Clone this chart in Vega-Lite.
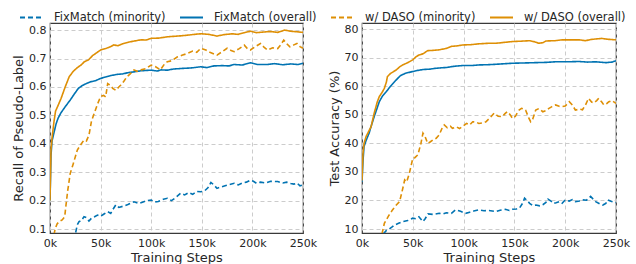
{
  "$schema": "https://vega.github.io/schema/vega-lite/v6.json",
  "padding": {"left": 11, "top": 5, "right": 5, "bottom": 2},
  "spacing": 9,
  "config": {
    "font": "DejaVu Sans",
    "view": {"stroke": "#3a3a3a", "strokeWidth": 1.2},
    "axis": {
      "labelFontSize": 11, "titleFontSize": 13, "labelColor": "#262626", "titleColor": "#262626",
      "titleFontWeight": "normal", "ticks": false, "domain": false,
      "grid": true, "gridColor": "#cccccc", "gridDash": [4, 3], "gridWidth": 1,
      "labelPadding": 4, "titlePadding": 3
    },
    "legend": {"labelFontSize": 11.5, "labelColor": "#262626"}
  },
  "datasets": {
    "recall": [
      {"s":"FixMatch (overall)","x":0,"y":0.20},{"s":"FixMatch (overall)","x":1,"y":0.36},{"s":"FixMatch (overall)","x":2,"y":0.41},{"s":"FixMatch (overall)","x":4,"y":0.44},{"s":"FixMatch (overall)","x":6,"y":0.47},{"s":"FixMatch (overall)","x":8,"y":0.49},{"s":"FixMatch (overall)","x":10.5,"y":0.507},{"s":"FixMatch (overall)","x":13,"y":0.52},{"s":"FixMatch (overall)","x":16,"y":0.535},{"s":"FixMatch (overall)","x":20,"y":0.554},{"s":"FixMatch (overall)","x":24,"y":0.575},{"s":"FixMatch (overall)","x":28,"y":0.595},{"s":"FixMatch (overall)","x":32,"y":0.605},{"s":"FixMatch (overall)","x":36,"y":0.612},{"s":"FixMatch (overall)","x":40,"y":0.618},{"s":"FixMatch (overall)","x":45,"y":0.622},{"s":"FixMatch (overall)","x":50,"y":0.63},{"s":"FixMatch (overall)","x":55,"y":0.635},{"s":"FixMatch (overall)","x":60,"y":0.64},{"s":"FixMatch (overall)","x":66,"y":0.644},{"s":"FixMatch (overall)","x":72,"y":0.646},{"s":"FixMatch (overall)","x":78,"y":0.651},{"s":"FixMatch (overall)","x":83,"y":0.653},{"s":"FixMatch (overall)","x":90,"y":0.657},{"s":"FixMatch (overall)","x":100,"y":0.659},{"s":"FixMatch (overall)","x":106,"y":0.656},{"s":"FixMatch (overall)","x":110,"y":0.66},{"s":"FixMatch (overall)","x":116,"y":0.659},{"s":"FixMatch (overall)","x":122,"y":0.663},{"s":"FixMatch (overall)","x":130,"y":0.665},{"s":"FixMatch (overall)","x":140,"y":0.667},{"s":"FixMatch (overall)","x":149,"y":0.671},{"s":"FixMatch (overall)","x":155,"y":0.668},{"s":"FixMatch (overall)","x":162,"y":0.674},{"s":"FixMatch (overall)","x":170,"y":0.675},{"s":"FixMatch (overall)","x":177,"y":0.674},{"s":"FixMatch (overall)","x":182,"y":0.679},{"s":"FixMatch (overall)","x":190,"y":0.677},{"s":"FixMatch (overall)","x":198,"y":0.685},{"s":"FixMatch (overall)","x":205,"y":0.679},{"s":"FixMatch (overall)","x":215,"y":0.679},{"s":"FixMatch (overall)","x":222,"y":0.682},{"s":"FixMatch (overall)","x":230,"y":0.678},{"s":"FixMatch (overall)","x":238,"y":0.681},{"s":"FixMatch (overall)","x":245,"y":0.679},{"s":"FixMatch (overall)","x":250,"y":0.683},
      {"s":"w/ DASO (overall)","x":0,"y":0.20},{"s":"w/ DASO (overall)","x":1,"y":0.38},{"s":"w/ DASO (overall)","x":2,"y":0.42},{"s":"w/ DASO (overall)","x":4,"y":0.48},{"s":"w/ DASO (overall)","x":5.5,"y":0.515},{"s":"w/ DASO (overall)","x":8,"y":0.535},{"s":"w/ DASO (overall)","x":11,"y":0.56},{"s":"w/ DASO (overall)","x":15,"y":0.6},{"s":"w/ DASO (overall)","x":19,"y":0.636},{"s":"w/ DASO (overall)","x":23,"y":0.655},{"s":"w/ DASO (overall)","x":27,"y":0.668},{"s":"w/ DASO (overall)","x":31,"y":0.678},{"s":"w/ DASO (overall)","x":34,"y":0.689},{"s":"w/ DASO (overall)","x":38,"y":0.695},{"s":"w/ DASO (overall)","x":42,"y":0.71},{"s":"w/ DASO (overall)","x":46,"y":0.72},{"s":"w/ DASO (overall)","x":50,"y":0.73},{"s":"w/ DASO (overall)","x":55,"y":0.735},{"s":"w/ DASO (overall)","x":60,"y":0.742},{"s":"w/ DASO (overall)","x":63,"y":0.748},{"s":"w/ DASO (overall)","x":67,"y":0.745},{"s":"w/ DASO (overall)","x":72,"y":0.752},{"s":"w/ DASO (overall)","x":78,"y":0.758},{"s":"w/ DASO (overall)","x":84,"y":0.762},{"s":"w/ DASO (overall)","x":90,"y":0.766},{"s":"w/ DASO (overall)","x":95,"y":0.765},{"s":"w/ DASO (overall)","x":100,"y":0.771},{"s":"w/ DASO (overall)","x":108,"y":0.772},{"s":"w/ DASO (overall)","x":115,"y":0.776},{"s":"w/ DASO (overall)","x":122,"y":0.778},{"s":"w/ DASO (overall)","x":130,"y":0.78},{"s":"w/ DASO (overall)","x":138,"y":0.783},{"s":"w/ DASO (overall)","x":145,"y":0.786},{"s":"w/ DASO (overall)","x":150,"y":0.787},{"s":"w/ DASO (overall)","x":157,"y":0.785},{"s":"w/ DASO (overall)","x":165,"y":0.779},{"s":"w/ DASO (overall)","x":172,"y":0.784},{"s":"w/ DASO (overall)","x":180,"y":0.787},{"s":"w/ DASO (overall)","x":186,"y":0.785},{"s":"w/ DASO (overall)","x":192,"y":0.791},{"s":"w/ DASO (overall)","x":198,"y":0.796},{"s":"w/ DASO (overall)","x":204,"y":0.791},{"s":"w/ DASO (overall)","x":210,"y":0.793},{"s":"w/ DASO (overall)","x":218,"y":0.795},{"s":"w/ DASO (overall)","x":225,"y":0.792},{"s":"w/ DASO (overall)","x":232,"y":0.80},{"s":"w/ DASO (overall)","x":238,"y":0.796},{"s":"w/ DASO (overall)","x":244,"y":0.794},{"s":"w/ DASO (overall)","x":250,"y":0.792},
      {"s":"w/ DASO (minority)","x":4,"y":0.08},{"s":"w/ DASO (minority)","x":5,"y":0.10},{"s":"w/ DASO (minority)","x":7,"y":0.118},{"s":"w/ DASO (minority)","x":9,"y":0.126},{"s":"w/ DASO (minority)","x":12,"y":0.132},{"s":"w/ DASO (minority)","x":14.5,"y":0.143},{"s":"w/ DASO (minority)","x":16,"y":0.19},{"s":"w/ DASO (minority)","x":17.5,"y":0.235},{"s":"w/ DASO (minority)","x":20,"y":0.296},{"s":"w/ DASO (minority)","x":23,"y":0.33},{"s":"w/ DASO (minority)","x":27,"y":0.378},{"s":"w/ DASO (minority)","x":30,"y":0.395},{"s":"w/ DASO (minority)","x":33.5,"y":0.413},{"s":"w/ DASO (minority)","x":36,"y":0.41},{"s":"w/ DASO (minority)","x":38.5,"y":0.43},{"s":"w/ DASO (minority)","x":41,"y":0.48},{"s":"w/ DASO (minority)","x":43,"y":0.5},{"s":"w/ DASO (minority)","x":47,"y":0.54},{"s":"w/ DASO (minority)","x":50,"y":0.566},{"s":"w/ DASO (minority)","x":53,"y":0.57},{"s":"w/ DASO (minority)","x":55,"y":0.565},{"s":"w/ DASO (minority)","x":57,"y":0.612},{"s":"w/ DASO (minority)","x":60,"y":0.605},{"s":"w/ DASO (minority)","x":62,"y":0.595},{"s":"w/ DASO (minority)","x":65,"y":0.588},{"s":"w/ DASO (minority)","x":68,"y":0.6},{"s":"w/ DASO (minority)","x":70,"y":0.607},{"s":"w/ DASO (minority)","x":73,"y":0.62},{"s":"w/ DASO (minority)","x":76,"y":0.636},{"s":"w/ DASO (minority)","x":79,"y":0.645},{"s":"w/ DASO (minority)","x":83,"y":0.66},{"s":"w/ DASO (minority)","x":86,"y":0.655},{"s":"w/ DASO (minority)","x":90,"y":0.66},{"s":"w/ DASO (minority)","x":95,"y":0.665},{"s":"w/ DASO (minority)","x":100,"y":0.677},{"s":"w/ DASO (minority)","x":104,"y":0.672},{"s":"w/ DASO (minority)","x":109,"y":0.66},{"s":"w/ DASO (minority)","x":113,"y":0.68},{"s":"w/ DASO (minority)","x":116,"y":0.689},{"s":"w/ DASO (minority)","x":120,"y":0.692},{"s":"w/ DASO (minority)","x":126,"y":0.706},{"s":"w/ DASO (minority)","x":131,"y":0.712},{"s":"w/ DASO (minority)","x":136,"y":0.718},{"s":"w/ DASO (minority)","x":141,"y":0.726},{"s":"w/ DASO (minority)","x":145,"y":0.722},{"s":"w/ DASO (minority)","x":149,"y":0.736},{"s":"w/ DASO (minority)","x":154,"y":0.73},{"s":"w/ DASO (minority)","x":158,"y":0.722},{"s":"w/ DASO (minority)","x":165,"y":0.712},{"s":"w/ DASO (minority)","x":170,"y":0.724},{"s":"w/ DASO (minority)","x":175,"y":0.736},{"s":"w/ DASO (minority)","x":179,"y":0.728},{"s":"w/ DASO (minority)","x":182,"y":0.724},{"s":"w/ DASO (minority)","x":187,"y":0.735},{"s":"w/ DASO (minority)","x":192,"y":0.747},{"s":"w/ DASO (minority)","x":195,"y":0.735},{"s":"w/ DASO (minority)","x":198,"y":0.73},{"s":"w/ DASO (minority)","x":203,"y":0.742},{"s":"w/ DASO (minority)","x":208,"y":0.753},{"s":"w/ DASO (minority)","x":212,"y":0.738},{"s":"w/ DASO (minority)","x":215,"y":0.73},{"s":"w/ DASO (minority)","x":220,"y":0.738},{"s":"w/ DASO (minority)","x":225,"y":0.735},{"s":"w/ DASO (minority)","x":228,"y":0.748},{"s":"w/ DASO (minority)","x":231,"y":0.765},{"s":"w/ DASO (minority)","x":234,"y":0.752},{"s":"w/ DASO (minority)","x":237,"y":0.741},{"s":"w/ DASO (minority)","x":241,"y":0.748},{"s":"w/ DASO (minority)","x":244,"y":0.753},{"s":"w/ DASO (minority)","x":247,"y":0.742},{"s":"w/ DASO (minority)","x":250,"y":0.736},
      {"s":"FixMatch (minority)","x":24,"y":0.06},{"s":"FixMatch (minority)","x":25.5,"y":0.09},{"s":"FixMatch (minority)","x":27,"y":0.115},{"s":"FixMatch (minority)","x":28.7,"y":0.126},{"s":"FixMatch (minority)","x":31,"y":0.13},{"s":"FixMatch (minority)","x":33.6,"y":0.143},{"s":"FixMatch (minority)","x":36,"y":0.14},{"s":"FixMatch (minority)","x":38.5,"y":0.128},{"s":"FixMatch (minority)","x":41,"y":0.138},{"s":"FixMatch (minority)","x":44,"y":0.143},{"s":"FixMatch (minority)","x":47,"y":0.149},{"s":"FixMatch (minority)","x":50,"y":0.145},{"s":"FixMatch (minority)","x":53,"y":0.152},{"s":"FixMatch (minority)","x":57,"y":0.161},{"s":"FixMatch (minority)","x":60,"y":0.155},{"s":"FixMatch (minority)","x":62,"y":0.168},{"s":"FixMatch (minority)","x":65,"y":0.185},{"s":"FixMatch (minority)","x":68,"y":0.176},{"s":"FixMatch (minority)","x":72,"y":0.18},{"s":"FixMatch (minority)","x":77,"y":0.186},{"s":"FixMatch (minority)","x":83,"y":0.196},{"s":"FixMatch (minority)","x":88,"y":0.19},{"s":"FixMatch (minority)","x":92,"y":0.195},{"s":"FixMatch (minority)","x":96,"y":0.2},{"s":"FixMatch (minority)","x":100,"y":0.202},{"s":"FixMatch (minority)","x":103,"y":0.195},{"s":"FixMatch (minority)","x":107,"y":0.197},{"s":"FixMatch (minority)","x":112,"y":0.205},{"s":"FixMatch (minority)","x":116,"y":0.208},{"s":"FixMatch (minority)","x":120,"y":0.2},{"s":"FixMatch (minority)","x":124,"y":0.21},{"s":"FixMatch (minority)","x":129,"y":0.226},{"s":"FixMatch (minority)","x":133,"y":0.22},{"s":"FixMatch (minority)","x":137,"y":0.228},{"s":"FixMatch (minority)","x":141,"y":0.222},{"s":"FixMatch (minority)","x":145,"y":0.232},{"s":"FixMatch (minority)","x":149,"y":0.231},{"s":"FixMatch (minority)","x":153,"y":0.235},{"s":"FixMatch (minority)","x":156,"y":0.245},{"s":"FixMatch (minority)","x":159,"y":0.264},{"s":"FixMatch (minority)","x":162,"y":0.255},{"s":"FixMatch (minority)","x":165,"y":0.243},{"s":"FixMatch (minority)","x":169,"y":0.248},{"s":"FixMatch (minority)","x":173,"y":0.252},{"s":"FixMatch (minority)","x":177,"y":0.256},{"s":"FixMatch (minority)","x":182,"y":0.261},{"s":"FixMatch (minority)","x":186,"y":0.255},{"s":"FixMatch (minority)","x":190,"y":0.262},{"s":"FixMatch (minority)","x":194,"y":0.265},{"s":"FixMatch (minority)","x":198,"y":0.272},{"s":"FixMatch (minority)","x":201,"y":0.268},{"s":"FixMatch (minority)","x":204,"y":0.261},{"s":"FixMatch (minority)","x":208,"y":0.265},{"s":"FixMatch (minority)","x":213,"y":0.262},{"s":"FixMatch (minority)","x":218,"y":0.268},{"s":"FixMatch (minority)","x":225,"y":0.267},{"s":"FixMatch (minority)","x":230,"y":0.262},{"s":"FixMatch (minority)","x":234,"y":0.265},{"s":"FixMatch (minority)","x":238,"y":0.26},{"s":"FixMatch (minority)","x":241,"y":0.258},{"s":"FixMatch (minority)","x":244,"y":0.262},{"s":"FixMatch (minority)","x":247,"y":0.252},{"s":"FixMatch (minority)","x":250,"y":0.255}
    ],
    "acc": [
      {"s":"FixMatch (overall)","x":0,"y":26.5},{"s":"FixMatch (overall)","x":1,"y":34},{"s":"FixMatch (overall)","x":2,"y":38.9},{"s":"FixMatch (overall)","x":4,"y":41},{"s":"FixMatch (overall)","x":7,"y":43.6},{"s":"FixMatch (overall)","x":9,"y":46},{"s":"FixMatch (overall)","x":12,"y":49.4},{"s":"FixMatch (overall)","x":15,"y":52.5},{"s":"FixMatch (overall)","x":17,"y":54.6},{"s":"FixMatch (overall)","x":20,"y":56.5},{"s":"FixMatch (overall)","x":24,"y":58.2},{"s":"FixMatch (overall)","x":28,"y":60},{"s":"FixMatch (overall)","x":33.5,"y":62.2},{"s":"FixMatch (overall)","x":38,"y":63.8},{"s":"FixMatch (overall)","x":43,"y":64.6},{"s":"FixMatch (overall)","x":50,"y":65.2},{"s":"FixMatch (overall)","x":55,"y":65.6},{"s":"FixMatch (overall)","x":60,"y":65.9},{"s":"FixMatch (overall)","x":66,"y":66},{"s":"FixMatch (overall)","x":72,"y":66.3},{"s":"FixMatch (overall)","x":78,"y":66.5},{"s":"FixMatch (overall)","x":83,"y":66.6},{"s":"FixMatch (overall)","x":90,"y":67},{"s":"FixMatch (overall)","x":99,"y":67.3},{"s":"FixMatch (overall)","x":108,"y":67.3},{"s":"FixMatch (overall)","x":115,"y":67.5},{"s":"FixMatch (overall)","x":125,"y":67.6},{"s":"FixMatch (overall)","x":135,"y":67.8},{"s":"FixMatch (overall)","x":148,"y":68.1},{"s":"FixMatch (overall)","x":160,"y":68.2},{"s":"FixMatch (overall)","x":170,"y":68.3},{"s":"FixMatch (overall)","x":181,"y":68.4},{"s":"FixMatch (overall)","x":190,"y":68.6},{"s":"FixMatch (overall)","x":200,"y":68.6},{"s":"FixMatch (overall)","x":214,"y":68.7},{"s":"FixMatch (overall)","x":222,"y":68.5},{"s":"FixMatch (overall)","x":230,"y":68.6},{"s":"FixMatch (overall)","x":240,"y":68.3},{"s":"FixMatch (overall)","x":246,"y":68.5},{"s":"FixMatch (overall)","x":250,"y":69},
      {"s":"w/ DASO (overall)","x":0,"y":27},{"s":"w/ DASO (overall)","x":1,"y":36.5},{"s":"w/ DASO (overall)","x":2,"y":40},{"s":"w/ DASO (overall)","x":4,"y":42.4},{"s":"w/ DASO (overall)","x":7,"y":44.5},{"s":"w/ DASO (overall)","x":9,"y":45.9},{"s":"w/ DASO (overall)","x":12,"y":50.6},{"s":"w/ DASO (overall)","x":15,"y":54.5},{"s":"w/ DASO (overall)","x":17,"y":56.4},{"s":"w/ DASO (overall)","x":20,"y":58},{"s":"w/ DASO (overall)","x":22,"y":59.3},{"s":"w/ DASO (overall)","x":24,"y":61.5},{"s":"w/ DASO (overall)","x":25,"y":63.4},{"s":"w/ DASO (overall)","x":28,"y":64.5},{"s":"w/ DASO (overall)","x":33.5,"y":65.7},{"s":"w/ DASO (overall)","x":37,"y":66.8},{"s":"w/ DASO (overall)","x":40,"y":67.5},{"s":"w/ DASO (overall)","x":45,"y":68.3},{"s":"w/ DASO (overall)","x":50,"y":69.3},{"s":"w/ DASO (overall)","x":53,"y":70.3},{"s":"w/ DASO (overall)","x":56,"y":71},{"s":"w/ DASO (overall)","x":60,"y":71.4},{"s":"w/ DASO (overall)","x":64.6,"y":72.5},{"s":"w/ DASO (overall)","x":70,"y":72.6},{"s":"w/ DASO (overall)","x":76,"y":72.8},{"s":"w/ DASO (overall)","x":83,"y":73.3},{"s":"w/ DASO (overall)","x":88,"y":74},{"s":"w/ DASO (overall)","x":94,"y":74.2},{"s":"w/ DASO (overall)","x":99,"y":74.5},{"s":"w/ DASO (overall)","x":107,"y":74.6},{"s":"w/ DASO (overall)","x":115,"y":74.9},{"s":"w/ DASO (overall)","x":125,"y":75.1},{"s":"w/ DASO (overall)","x":132,"y":75.1},{"s":"w/ DASO (overall)","x":140,"y":75.4},{"s":"w/ DASO (overall)","x":148,"y":75.7},{"s":"w/ DASO (overall)","x":155,"y":75.8},{"s":"w/ DASO (overall)","x":165,"y":76},{"s":"w/ DASO (overall)","x":170,"y":75.6},{"s":"w/ DASO (overall)","x":174,"y":75.1},{"s":"w/ DASO (overall)","x":178,"y":75.3},{"s":"w/ DASO (overall)","x":181,"y":75.9},{"s":"w/ DASO (overall)","x":190,"y":76},{"s":"w/ DASO (overall)","x":197,"y":76.3},{"s":"w/ DASO (overall)","x":205,"y":76.3},{"s":"w/ DASO (overall)","x":214,"y":76.3},{"s":"w/ DASO (overall)","x":220,"y":76},{"s":"w/ DASO (overall)","x":225,"y":76.4},{"s":"w/ DASO (overall)","x":230,"y":76.6},{"s":"w/ DASO (overall)","x":236,"y":76.8},{"s":"w/ DASO (overall)","x":242,"y":76.5},{"s":"w/ DASO (overall)","x":250,"y":76.3},
      {"s":"w/ DASO (minority)","x":19.7,"y":8.3},{"s":"w/ DASO (minority)","x":22,"y":12},{"s":"w/ DASO (minority)","x":26,"y":14.5},{"s":"w/ DASO (minority)","x":30,"y":16.7},{"s":"w/ DASO (minority)","x":34,"y":18.5},{"s":"w/ DASO (minority)","x":37,"y":19.6},{"s":"w/ DASO (minority)","x":40,"y":24},{"s":"w/ DASO (minority)","x":42,"y":27.2},{"s":"w/ DASO (minority)","x":44,"y":26.5},{"s":"w/ DASO (minority)","x":46.6,"y":29.5},{"s":"w/ DASO (minority)","x":50,"y":34.8},{"s":"w/ DASO (minority)","x":52,"y":35},{"s":"w/ DASO (minority)","x":55,"y":36},{"s":"w/ DASO (minority)","x":58,"y":40},{"s":"w/ DASO (minority)","x":60,"y":43.6},{"s":"w/ DASO (minority)","x":62,"y":42.5},{"s":"w/ DASO (minority)","x":64.6,"y":40},{"s":"w/ DASO (minority)","x":67,"y":40.5},{"s":"w/ DASO (minority)","x":69.6,"y":41.2},{"s":"w/ DASO (minority)","x":73,"y":41.8},{"s":"w/ DASO (minority)","x":76,"y":43},{"s":"w/ DASO (minority)","x":79,"y":45.5},{"s":"w/ DASO (minority)","x":81,"y":46.5},{"s":"w/ DASO (minority)","x":84,"y":45.5},{"s":"w/ DASO (minority)","x":87,"y":46},{"s":"w/ DASO (minority)","x":89,"y":45.3},{"s":"w/ DASO (minority)","x":93,"y":45.8},{"s":"w/ DASO (minority)","x":96,"y":45.2},{"s":"w/ DASO (minority)","x":99,"y":45.9},{"s":"w/ DASO (minority)","x":103,"y":47},{"s":"w/ DASO (minority)","x":106,"y":46.5},{"s":"w/ DASO (minority)","x":109,"y":47.6},{"s":"w/ DASO (minority)","x":112,"y":47.5},{"s":"w/ DASO (minority)","x":115,"y":47},{"s":"w/ DASO (minority)","x":119,"y":47.2},{"s":"w/ DASO (minority)","x":122,"y":47.6},{"s":"w/ DASO (minority)","x":126,"y":49},{"s":"w/ DASO (minority)","x":130,"y":50.6},{"s":"w/ DASO (minority)","x":134,"y":49.5},{"s":"w/ DASO (minority)","x":138,"y":49.4},{"s":"w/ DASO (minority)","x":141,"y":50.5},{"s":"w/ DASO (minority)","x":143,"y":51.1},{"s":"w/ DASO (minority)","x":146,"y":50},{"s":"w/ DASO (minority)","x":148,"y":48.8},{"s":"w/ DASO (minority)","x":151,"y":49.5},{"s":"w/ DASO (minority)","x":154,"y":51.5},{"s":"w/ DASO (minority)","x":157,"y":52.3},{"s":"w/ DASO (minority)","x":161,"y":51.7},{"s":"w/ DASO (minority)","x":164,"y":49},{"s":"w/ DASO (minority)","x":166,"y":47.6},{"s":"w/ DASO (minority)","x":168,"y":48.5},{"s":"w/ DASO (minority)","x":171,"y":51.7},{"s":"w/ DASO (minority)","x":174,"y":52.2},{"s":"w/ DASO (minority)","x":178,"y":51.1},{"s":"w/ DASO (minority)","x":181,"y":51.5},{"s":"w/ DASO (minority)","x":184,"y":52.3},{"s":"w/ DASO (minority)","x":187,"y":52.9},{"s":"w/ DASO (minority)","x":190.5,"y":53.5},{"s":"w/ DASO (minority)","x":194,"y":53},{"s":"w/ DASO (minority)","x":197,"y":52.9},{"s":"w/ DASO (minority)","x":200,"y":53.1},{"s":"w/ DASO (minority)","x":204,"y":54.6},{"s":"w/ DASO (minority)","x":207,"y":53.5},{"s":"w/ DASO (minority)","x":210,"y":51.7},{"s":"w/ DASO (minority)","x":214,"y":52},{"s":"w/ DASO (minority)","x":217,"y":51.8},{"s":"w/ DASO (minority)","x":220,"y":53.5},{"s":"w/ DASO (minority)","x":223,"y":55.8},{"s":"w/ DASO (minority)","x":226,"y":54.5},{"s":"w/ DASO (minority)","x":228,"y":54.2},{"s":"w/ DASO (minority)","x":231,"y":55},{"s":"w/ DASO (minority)","x":233,"y":55.8},{"s":"w/ DASO (minority)","x":236,"y":54.5},{"s":"w/ DASO (minority)","x":238,"y":53.5},{"s":"w/ DASO (minority)","x":241,"y":54},{"s":"w/ DASO (minority)","x":243,"y":54.6},{"s":"w/ DASO (minority)","x":246,"y":55},{"s":"w/ DASO (minority)","x":250,"y":54},
      {"s":"FixMatch (minority)","x":21,"y":8.3},{"s":"FixMatch (minority)","x":24,"y":9.5},{"s":"FixMatch (minority)","x":27,"y":10},{"s":"FixMatch (minority)","x":30,"y":10.8},{"s":"FixMatch (minority)","x":32,"y":11.4},{"s":"FixMatch (minority)","x":36,"y":12},{"s":"FixMatch (minority)","x":40,"y":12.6},{"s":"FixMatch (minority)","x":45,"y":13},{"s":"FixMatch (minority)","x":50,"y":13.8},{"s":"FixMatch (minority)","x":53,"y":13.6},{"s":"FixMatch (minority)","x":56,"y":14.3},{"s":"FixMatch (minority)","x":60,"y":12.6},{"s":"FixMatch (minority)","x":62,"y":13.5},{"s":"FixMatch (minority)","x":65,"y":15.3},{"s":"FixMatch (minority)","x":70,"y":15.1},{"s":"FixMatch (minority)","x":76,"y":15.5},{"s":"FixMatch (minority)","x":80,"y":15.3},{"s":"FixMatch (minority)","x":83,"y":15.7},{"s":"FixMatch (minority)","x":88,"y":15.5},{"s":"FixMatch (minority)","x":92,"y":16.7},{"s":"FixMatch (minority)","x":97,"y":16.2},{"s":"FixMatch (minority)","x":102,"y":15.5},{"s":"FixMatch (minority)","x":106,"y":15.9},{"s":"FixMatch (minority)","x":110,"y":16.3},{"s":"FixMatch (minority)","x":115,"y":16.7},{"s":"FixMatch (minority)","x":120,"y":16.4},{"s":"FixMatch (minority)","x":125,"y":16.5},{"s":"FixMatch (minority)","x":132,"y":16.1},{"s":"FixMatch (minority)","x":136,"y":16.6},{"s":"FixMatch (minority)","x":141,"y":16.9},{"s":"FixMatch (minority)","x":145,"y":16.5},{"s":"FixMatch (minority)","x":148,"y":16.9},{"s":"FixMatch (minority)","x":152,"y":17},{"s":"FixMatch (minority)","x":155,"y":17.3},{"s":"FixMatch (minority)","x":158,"y":19},{"s":"FixMatch (minority)","x":160,"y":20.8},{"s":"FixMatch (minority)","x":163,"y":19.8},{"s":"FixMatch (minority)","x":165,"y":19},{"s":"FixMatch (minority)","x":168,"y":18.2},{"s":"FixMatch (minority)","x":171,"y":18.4},{"s":"FixMatch (minority)","x":175,"y":18.1},{"s":"FixMatch (minority)","x":178,"y":18.5},{"s":"FixMatch (minority)","x":181,"y":19.3},{"s":"FixMatch (minority)","x":183,"y":20.5},{"s":"FixMatch (minority)","x":186,"y":19.8},{"s":"FixMatch (minority)","x":188,"y":19},{"s":"FixMatch (minority)","x":191,"y":19.2},{"s":"FixMatch (minority)","x":194,"y":19.6},{"s":"FixMatch (minority)","x":197,"y":19},{"s":"FixMatch (minority)","x":200,"y":20.2},{"s":"FixMatch (minority)","x":204,"y":19.8},{"s":"FixMatch (minority)","x":207,"y":20.3},{"s":"FixMatch (minority)","x":210,"y":19.6},{"s":"FixMatch (minority)","x":214,"y":19.8},{"s":"FixMatch (minority)","x":217,"y":20.2},{"s":"FixMatch (minority)","x":221,"y":20.1},{"s":"FixMatch (minority)","x":225,"y":21.4},{"s":"FixMatch (minority)","x":228,"y":20.3},{"s":"FixMatch (minority)","x":230,"y":19.6},{"s":"FixMatch (minority)","x":234,"y":18.8},{"s":"FixMatch (minority)","x":237,"y":18.4},{"s":"FixMatch (minority)","x":240,"y":19},{"s":"FixMatch (minority)","x":242,"y":20.2},{"s":"FixMatch (minority)","x":245,"y":19.7},{"s":"FixMatch (minority)","x":250,"y":19.2}
    ]
  },
  "resolve": {"scale": {"color": "shared", "strokeDash": "shared"}},
  "hconcat": [
    {
      "width": 253, "height": 210,
      "data": {"name": "recall"},
      "mark": {"type": "line", "strokeWidth": 1.6, "clip": true},
      "encoding": {
        "x": {"field": "x", "type": "quantitative", "scale": {"domain": [0, 250], "nice": false},
              "axis": {"values": [0, 50, 100, 150, 200, 250], "labelExpr": "datum.value + 'k'", "title": "Training Steps", "labelFlush": false}},
        "y": {"field": "y", "type": "quantitative", "scale": {"domain": [0.086, 0.825], "nice": false, "zero": false},
              "axis": {"values": [0.1, 0.2, 0.3, 0.4, 0.5, 0.6, 0.7, 0.8], "format": ".1f", "title": "Recall of Pseudo-Label"}},
        "color": {"field": "s", "type": "nominal",
                  "scale": {"domain": ["FixMatch (minority)", "FixMatch (overall)", "w/ DASO (minority)", "w/ DASO (overall)"], "range": ["#0173b2", "#0173b2", "#de8f05", "#de8f05"]},
                  "legend": {"title": null, "orient": "none", "direction": "horizontal", "columns": 4, "legendX": -31, "legendY": -18, "symbolType": "stroke", "symbolSize": 529, "symbolStrokeWidth": 1.8, "labelOffset": 10, "columnPadding": 10}},
        "strokeDash": {"field": "s", "type": "nominal",
                  "scale": {"domain": ["FixMatch (minority)", "FixMatch (overall)", "w/ DASO (minority)", "w/ DASO (overall)"], "range": [[5, 3], [1, 0], [5, 3], [1, 0]]},
                  "legend": {"title": null, "orient": "none", "direction": "horizontal", "columns": 4, "legendX": -31, "legendY": -18, "symbolType": "stroke", "symbolSize": 529, "symbolStrokeWidth": 1.8, "labelOffset": 10, "columnPadding": 10}},
        "detail": {"field": "s"}
      }
    },
    {
      "width": 254, "height": 210,
      "data": {"name": "acc"},
      "mark": {"type": "line", "strokeWidth": 1.6, "clip": true},
      "encoding": {
        "x": {"field": "x", "type": "quantitative", "scale": {"domain": [0, 250], "nice": false},
              "axis": {"values": [0, 50, 100, 150, 200, 250], "labelExpr": "datum.value + 'k'", "title": "Training Steps", "labelFlush": false}},
        "y": {"field": "y", "type": "quantitative", "scale": {"domain": [8.6, 82.2], "nice": false, "zero": false},
              "axis": {"values": [10, 20, 30, 40, 50, 60, 70, 80], "title": "Test Accuracy (%)"}},
        "color": {"field": "s", "type": "nominal"},
        "strokeDash": {"field": "s", "type": "nominal"},
        "detail": {"field": "s"}
      }
    }
  ]
}
